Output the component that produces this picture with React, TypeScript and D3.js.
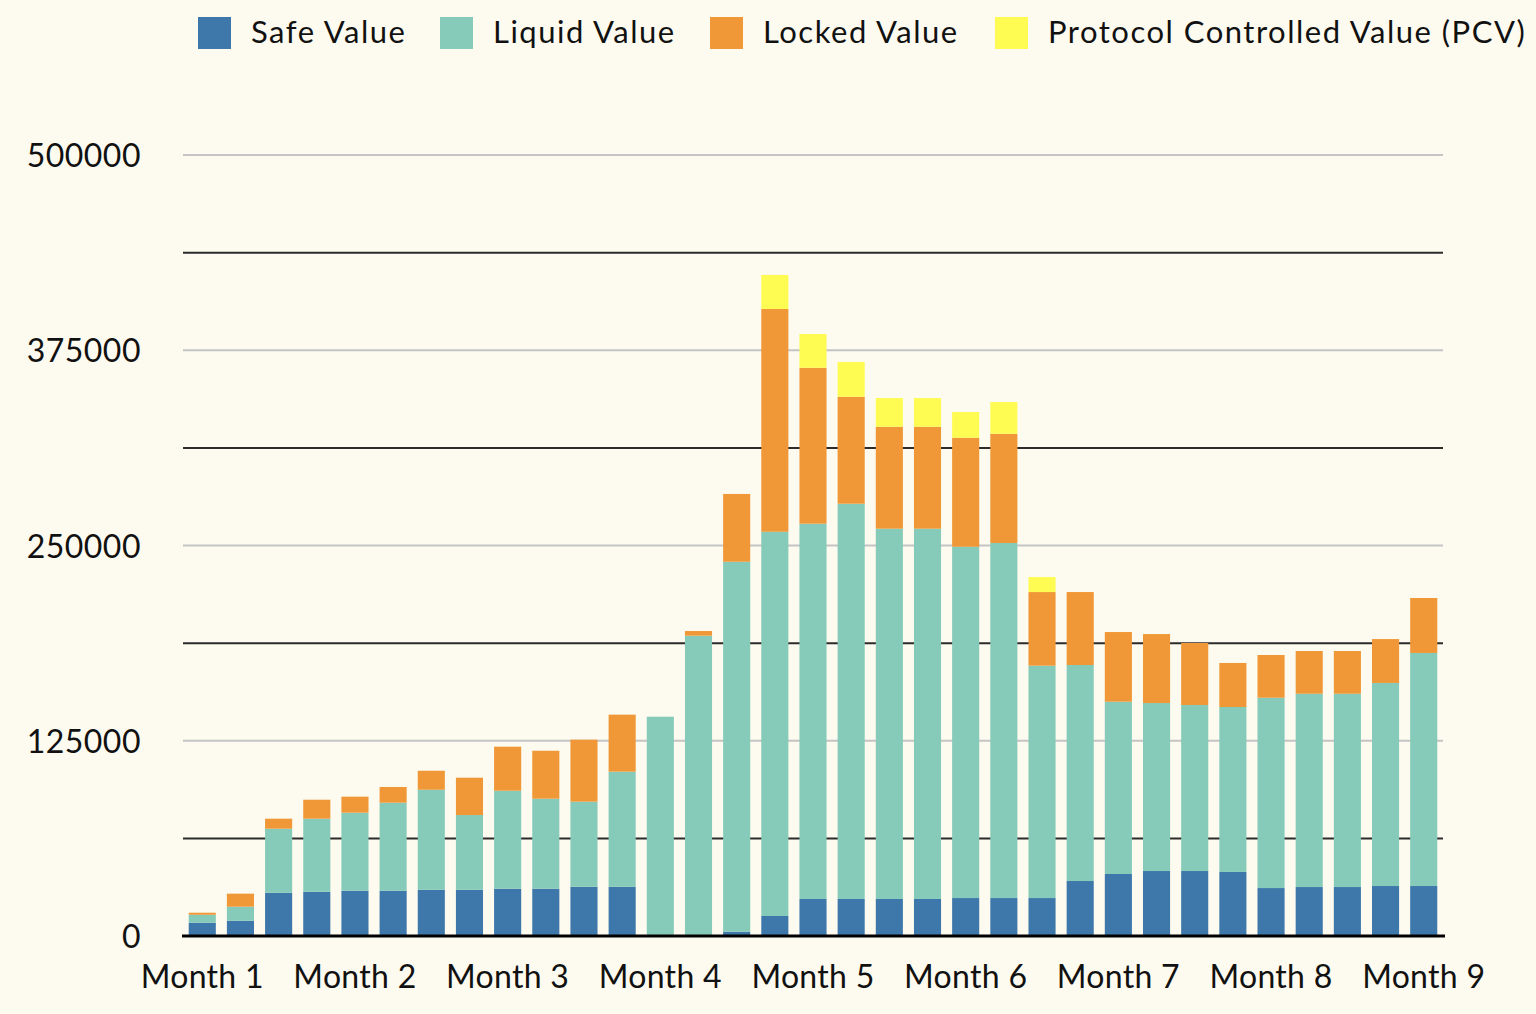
import React from "react";
import * as d3 from "d3";

const weeks = [
  "W1","W2","W3","W4","W5","W6","W7","W8","W9","W10","W11",
  "W12","W13","W14","W15","W16","W17","W18","W19","W20","W21","W22",
  "W23","W24","W25","W26","W27","W28","W29","W30","W31","W32","W33",
];

const safeValue = [8500, 9800, 27700, 28350, 29000, 29000, 29650, 29650, 30300, 30300, 31550, 31550, 0, 0, 2750, 12800, 23700, 23700, 23700, 23700, 24300, 24300, 24300, 35200, 39700, 41600, 41600, 41000, 30700, 31350, 31350, 32000, 32000];
const liquidValue = [5100, 8950, 41000, 46750, 49950, 56350, 64000, 47800, 62700, 57600, 54450, 73650, 140400, 192250, 236850, 246000, 240250, 253050, 237050, 237050, 224900, 227300, 148750, 138300, 110300, 107550, 106300, 105600, 121850, 123750, 123750, 130000, 149200];
const lockedValue = [1300, 8350, 6400, 12150, 10250, 10050, 12150, 23900, 28200, 30700, 39700, 36500, 0, 3000, 43400, 142600, 99850, 68500, 65300, 65300, 69800, 69950, 47150, 46700, 44600, 44150, 39700, 28200, 27350, 27350, 27350, 28100, 35200];
const pcvValue = [0, 0, 0, 0, 0, 0, 0, 0, 0, 0, 0, 0, 0, 0, 0, 21800, 21600, 22250, 18350, 18350, 16450, 20300, 9600, 0, 0, 0, 0, 0, 0, 0, 0, 0, 0];

const seriesNames = ["Safe Value", "Liquid Value", "Locked Value", "Protocol Controlled Value (PCV)"];
const seriesKeys = ["safe", "liquid", "locked", "pcv"];
const colors = ["#3e78aa", "#86cbb9", "#f09837", "#fefc52"];

const monthLabels = ["Month 1", "Month 2", "Month 3", "Month 4", "Month 5", "Month 6", "Month 7", "Month 8", "Month 9"];
const monthWeeks = ["W1", "W5", "W9", "W13", "W17", "W21", "W25", "W29", "W33"];

const majorTicks = [0, 125000, 250000, 375000, 500000];
const minorTicks = [62500, 187500, 312500, 437500];

const W = 1536;
const H = 1014;
const FONT = "Lato, 'Open Sans', sans-serif";

export default function App() {
  const rows = weeks.map((w, i) => ({
    week: w,
    safe: safeValue[i],
    liquid: liquidValue[i],
    locked: lockedValue[i],
    pcv: pcvValue[i],
  }));
  const stacked = d3.stack().keys(seriesKeys)(rows as any);

  const x = d3.scaleBand().domain(weeks).range([183, 1443]).paddingInner(0.29).paddingOuter(0.15);
  const y = d3.scaleLinear().domain([0, 500000]).range([936, 155]);

  const legendX = [198, 440, 710, 995];

  return (
    <svg width={W} height={H} style={{ position: "absolute", left: 0, top: 0 }} fontFamily={FONT}>
      <rect x={0} y={0} width={W} height={H} fill="#fdfbef" />
      {/* legend */}
      {seriesNames.map((name, i) => (
        <g key={name}>
          <rect x={legendX[i]} y={17} width={33} height={32} fill={colors[i]} />
          <text x={legendX[i] + 53} y={43} fontSize={31} letterSpacing={1.5} fill="#111">{name}</text>
        </g>
      ))}
      {/* gridlines */}
      {majorTicks.filter((t) => t > 0).map((t) => (
        <line key={"g" + t} x1={183} x2={1443} y1={y(t)} y2={y(t)} stroke="#c4c4c4" strokeWidth={2} />
      ))}
      {minorTicks.map((t) => (
        <line key={"m" + t} x1={183} x2={1443} y1={y(t)} y2={y(t)} stroke="#2b2b2b" strokeWidth={2} />
      ))}
      {/* y labels */}
      {majorTicks.map((t) => (
        <text key={"t" + t} x={141} y={y(t) + 12} textAnchor="end" fontSize={32} letterSpacing={0.5} fill="#111">{t}</text>
      ))}
      {/* bars */}
      {stacked.map((s, si) => (
        <g key={s.key} fill={colors[si]}>
          {s.map((d: any, i: number) =>
            d[1] - d[0] > 0 ? (
              <rect
                key={i}
                x={x(weeks[i])}
                width={x.bandwidth()}
                y={y(d[1])}
                height={y(d[0]) - y(d[1])}
              />
            ) : null
          )}
        </g>
      ))}
      {/* zero line */}
      <line x1={182} x2={1445} y1={y(0)} y2={y(0)} stroke="#000" strokeWidth={3} />
      {/* x labels */}
      {monthLabels.map((m, i) => (
        <text
          key={m}
          x={(x(monthWeeks[i]) as number) + x.bandwidth() / 2}
          y={988}
          textAnchor="middle"
          fontSize={32}
          letterSpacing={0.3}
          fill="#111"
        >
          {m}
        </text>
      ))}
    </svg>
  );
}
